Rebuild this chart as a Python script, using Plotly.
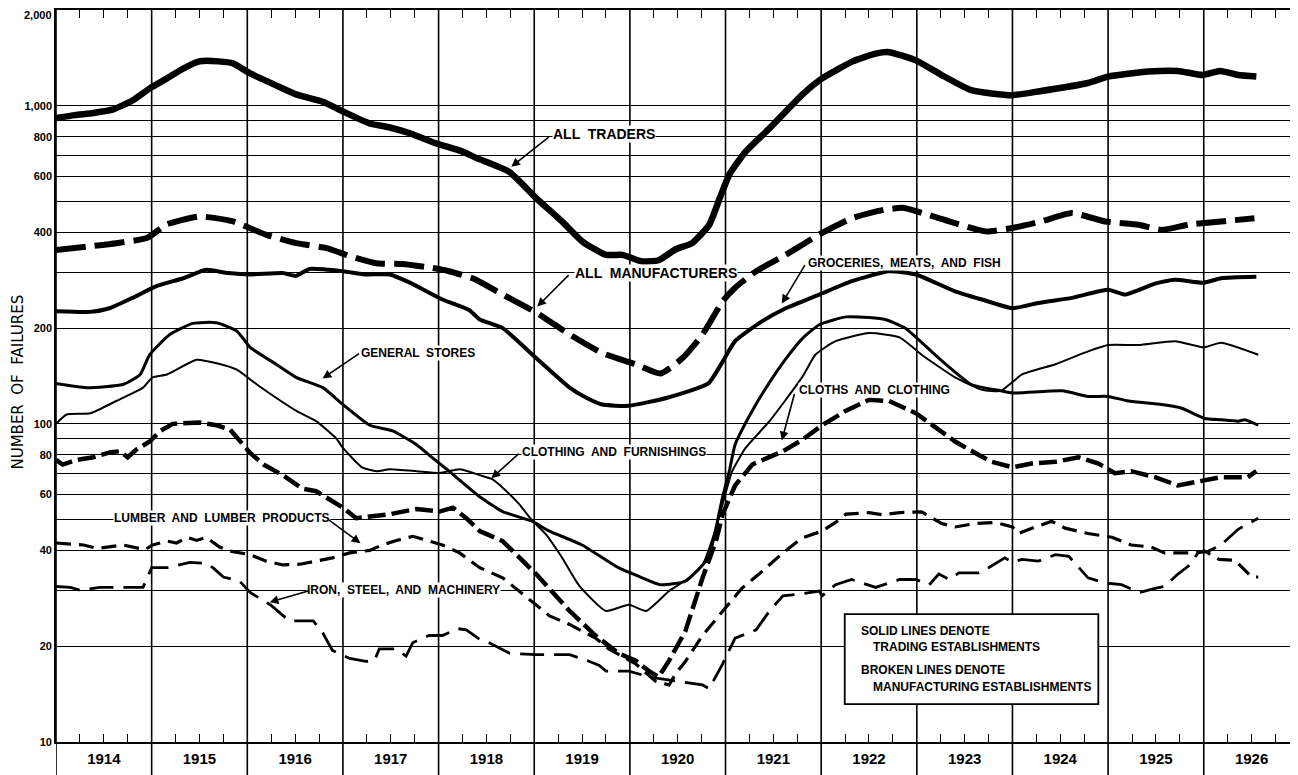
import plotly.graph_objects as go
import math

# ---------------- data ----------------
years = list(range(1914, 1927))

traders_t = [1914.0, 1914.2, 1914.39, 1914.6, 1914.8, 1914.98, 1915.16, 1915.33, 1915.5, 1915.7, 1915.85,
             1916.03, 1916.3, 1916.51, 1916.79, 1917.0, 1917.28, 1917.49, 1917.7, 1917.97, 1918.25, 1918.4,
             1918.74, 1919.02, 1919.29, 1919.5, 1919.75, 1919.92, 1920.13, 1920.3, 1920.48, 1920.65, 1920.83,
             1920.94, 1921.04, 1921.21, 1921.46, 1921.8, 1922.01, 1922.33, 1922.57, 1922.71, 1922.99, 1923.26,
             1923.57, 1923.99, 1924.27, 1924.79, 1925.0, 1925.42, 1925.73, 1925.99, 1926.17, 1926.36, 1926.55]
traders_v = [915, 935, 950, 975, 1040, 1135, 1220, 1310, 1380, 1380, 1360,
             1265, 1160, 1087, 1030, 960, 880, 855, 820, 763, 718, 685,
             620, 513, 433, 375, 340, 340, 324, 327, 354, 370, 423,
             513, 608, 718, 850, 1083, 1220, 1380, 1460, 1475, 1390, 1250,
             1120, 1080, 1110, 1180, 1236, 1282, 1288, 1250, 1288, 1250, 1236]

manuf_t = [1914.0, 1914.29, 1914.63, 1914.95, 1915.16, 1915.5, 1915.85, 1916.2, 1916.51, 1916.83, 1917.07,
           1917.35, 1917.62, 1917.94, 1918.11, 1918.38, 1918.67, 1919.02, 1919.37, 1919.71, 1920.06, 1920.32,
           1920.55, 1920.76, 1920.97, 1921.1, 1921.32, 1921.63, 1921.98, 1922.32, 1922.64, 1922.85, 1923.0,
           1923.34, 1923.72, 1924.0, 1924.3, 1924.62, 1924.97, 1925.32, 1925.56, 1925.84, 1926.18, 1926.53]
manuf_v = [352, 360, 370, 384, 424, 449, 433, 393, 370, 357, 337,
           320, 318, 309, 302, 285, 255, 224, 191, 167, 154, 144,
           161, 191, 243, 268, 302, 340, 394, 443, 470, 478, 466,
           433, 403, 413, 433, 460, 433, 423, 407, 423, 433, 443]

groc_t = [1914.0, 1914.36, 1914.56, 1914.8, 1915.05, 1915.33, 1915.57, 1915.8, 1916.03, 1916.37, 1916.51,
          1916.65, 1917.0, 1917.24, 1917.49, 1917.7, 1918.04, 1918.32, 1918.43, 1918.67, 1919.02, 1919.37,
          1919.54, 1919.71, 1919.99, 1920.4, 1920.82, 1920.97, 1921.1, 1921.38, 1921.63, 1921.98, 1922.32,
          1922.71, 1922.99, 1923.4, 1923.68, 1924.0, 1924.27, 1924.62, 1925.0, 1925.18, 1925.49, 1925.7,
          1926.0, 1926.18, 1926.55]
groc_v = [226, 225, 231, 249, 271, 287, 305, 298, 295, 298, 292,
          307, 302, 295, 295, 278, 246, 228, 213, 200, 161, 130,
          121, 115, 114, 121, 134, 157, 182, 210, 231, 255, 281,
          302, 295, 261, 246, 231, 240, 249, 264, 255, 276, 284,
          278, 287, 290]

gen_t = [1914.0, 1914.32, 1914.7, 1914.88, 1914.98, 1915.19, 1915.43, 1915.68, 1915.89, 1916.03, 1916.3,
         1916.51, 1916.79, 1917.0, 1917.28, 1917.52, 1917.77, 1917.94, 1918.11, 1918.43, 1918.67, 1918.97,
         1919.16, 1919.5, 1919.88, 1920.13, 1920.32, 1920.58, 1920.76, 1920.83, 1920.9, 1920.97, 1921.04,
         1921.1, 1921.28, 1921.46, 1921.63, 1921.8, 1921.98, 1922.26, 1922.5, 1922.67, 1922.88, 1923.23,
         1923.57, 1923.88, 1924.0, 1924.52, 1924.79, 1925.0, 1925.21, 1925.56, 1925.77, 1926.01, 1926.18,
         1926.36, 1926.43, 1926.57]
gen_v = [134, 130, 133, 143, 165, 191, 207, 208, 196, 174, 154,
         140, 130, 115, 99, 95, 86, 78, 71, 59, 53, 49.5,
         46, 41.6, 35.3, 32.8, 31.2, 32, 36, 38.5, 47, 59, 71,
         86, 110, 135, 160, 185, 205, 217, 216, 213, 200, 161,
         133, 127, 125, 127, 122, 122, 118, 115, 112, 104, 103,
         102, 103, 99]

cf_t = [1914.0, 1914.11, 1914.36, 1914.63, 1914.91, 1915.01, 1915.16, 1915.47, 1915.68, 1915.89, 1916.1,
        1916.51, 1916.72, 1916.93, 1917.0, 1917.2, 1917.35, 1917.49, 1917.77, 1918.01, 1918.22, 1918.43,
        1918.56, 1918.67, 1918.84, 1918.97, 1919.12, 1919.29, 1919.47, 1919.75, 1919.99, 1920.17, 1920.41,
        1920.62, 1920.76, 1920.9, 1920.97, 1921.07, 1921.21, 1921.46, 1921.8, 1921.94, 1922.15, 1922.5,
        1922.82, 1923.05, 1923.4, 1923.68, 1923.88, 1924.1, 1924.45, 1924.79, 1925.0, 1925.32, 1925.7,
        1926.0, 1926.18, 1926.57]
cf_v = [100, 107, 108, 118, 130, 140, 143, 159, 155, 148, 133,
        110, 102, 90, 84, 73, 71, 72, 71, 70, 72, 69,
        67, 63, 56, 50, 45, 38, 31, 25.8, 27, 25.8, 29.8,
        32.8, 36, 47, 56, 71, 84, 102, 140, 165, 182, 193,
        187, 165, 140, 128, 127, 143, 154, 169, 177, 177, 182,
        174, 180, 165]

cloths_t = [1914.0, 1914.07, 1914.21, 1914.39, 1914.57, 1914.67, 1914.75, 1914.84, 1914.98, 1915.09, 1915.22,
            1915.5, 1915.68, 1915.82, 1916.03, 1916.17, 1916.37, 1916.58, 1916.72, 1916.89, 1917.0, 1917.14,
            1917.28, 1917.49, 1917.77, 1918.01, 1918.15, 1918.29, 1918.43, 1918.67, 1919.02, 1919.37, 1919.64,
            1919.88, 1920.06, 1920.2, 1920.3, 1920.41, 1920.58, 1920.76, 1920.9, 1920.97, 1921.1, 1921.28,
            1921.6, 1921.8, 1922.01, 1922.26, 1922.5, 1922.71, 1922.99, 1923.16, 1923.4, 1923.61, 1923.78,
            1924.0, 1924.2, 1924.45, 1924.69, 1924.9, 1925.07, 1925.24, 1925.49, 1925.73, 1925.97, 1926.18,
            1926.46, 1926.55]
cloths_v = [77, 74.5, 77, 78.5, 81.5, 82, 78.5, 83, 88, 95, 100,
            101, 99, 96, 81, 74.5, 69, 62.5, 61.4, 57, 54.5, 50.5,
            51, 52, 54, 53, 54.5, 50.5, 46, 42.8, 33.7, 25.8, 21.6,
            19, 18, 16.7, 16, 18, 22.3, 32.8, 42.8, 52, 64, 74.5,
            82, 89, 99, 110, 119, 118, 108, 99, 88, 81, 76,
            73, 75, 76, 78.5, 75, 70, 71, 68, 64, 66, 68,
            68, 71]

lumber_t = [1914.0, 1914.29, 1914.43, 1914.7, 1914.93, 1915.01, 1915.16, 1915.26, 1915.37, 1915.47, 1915.57,
            1915.71, 1915.82, 1916.03, 1916.2, 1916.37, 1916.55, 1916.72, 1916.89, 1917.07, 1917.28, 1917.41,
            1917.56, 1917.73, 1917.87, 1918.04, 1918.22, 1918.43, 1918.67, 1919.02, 1919.16, 1919.37, 1919.64,
            1919.78, 1920.06, 1920.27, 1920.41, 1920.48, 1920.58, 1920.76, 1920.97, 1921.17, 1921.35, 1921.6,
            1921.8, 1922.01, 1922.15, 1922.26, 1922.5, 1922.64, 1922.82, 1923.05, 1923.26, 1923.4, 1923.61,
            1923.82, 1924.0, 1924.06, 1924.24, 1924.41, 1924.55, 1924.79, 1925.04, 1925.24, 1925.45, 1925.59,
            1925.84, 1926.01, 1926.16, 1926.33, 1926.5, 1926.57]
lumber_v = [42.2, 41.6, 40.6, 41.6, 40.2, 41.6, 42.8, 42.2, 44, 43, 44,
            41, 39.8, 38.8, 37, 36, 36.2, 37, 37.9, 39.3, 40, 41.6,
            43, 44.3, 43, 41.6, 39.3, 35.3, 32.8, 27, 24.9, 23.4, 21.2,
            19.6, 17.6, 15.5, 15.1, 16.4, 17.9, 21.6, 25.8, 30.4, 33.7, 39.3,
            43.8, 46, 49, 52, 52.6, 51.8, 52.6, 52.9, 48.6, 47.4, 48.6,
            49, 47.4, 45.2, 47.4, 49.4, 47, 45.2, 44, 41.6, 41, 39.3,
            39.3, 39.8, 37.5, 37.2, 33, 33]

iron_t = [1914.0, 1914.15, 1914.25, 1914.46, 1914.91, 1915.0, 1915.16, 1915.33, 1915.4, 1915.57, 1915.64,
          1915.75, 1915.92, 1916.03, 1916.24, 1916.44, 1916.69, 1916.79, 1916.89, 1917.07, 1917.24, 1917.33,
          1917.38, 1917.56, 1917.66, 1917.73, 1917.9, 1918.04, 1918.2, 1918.29, 1918.43, 1918.5, 1918.74,
          1919.02, 1919.37, 1919.58, 1919.68, 1919.75, 1919.99, 1920.2, 1920.5, 1920.65, 1920.76, 1920.83,
          1920.97, 1921.1, 1921.32, 1921.46, 1921.6, 1921.8, 1921.98, 1922.01, 1922.15, 1922.32, 1922.57,
          1922.82, 1922.99, 1923.13, 1923.23, 1923.34, 1923.44, 1923.65, 1923.75, 1923.92, 1924.0, 1924.1,
          1924.27, 1924.45, 1924.59, 1924.79, 1924.97, 1925.14, 1925.33, 1925.49, 1925.59, 1925.73, 1925.84,
          1925.94, 1926.05, 1926.18, 1926.36, 1926.57]
iron_v = [30.8, 30.6, 30, 30.6, 30.6, 35.3, 35.3, 36.2, 36.7, 36.4, 35.3,
          33, 32, 29.5, 27, 24, 24, 22, 19.4, 18.3, 17.9, 18,
          19.6, 19.6, 18.6, 20.5, 21.6, 21.6, 22.7, 22.5, 21, 20.7, 19,
          18.8, 18.8, 17.9, 17.4, 16.7, 16.7, 16, 15.5, 15.3, 15.1, 14.7,
          17.6, 21.2, 22.5, 25.8, 28.8, 29.2, 29.8, 28.8, 31.2, 32.4, 30.6,
          32.4, 32.4, 31.2, 33.7, 32.4, 34, 34, 35.3, 37.9, 36.7, 37.5,
          37, 38.8, 38.3, 32.8, 31.6, 31.2, 29.5, 30.4, 30.8, 33.7, 35.7,
          39.3, 39.8, 41.6, 46.6, 50.5]

grid_values = [10, 20, 30, 40, 50, 60, 70, 80, 90, 100, 200, 300, 400, 500, 600, 700, 800, 900, 1000, 2000]
labelled_values = {10: "10", 20: "20", 40: "40", 60: "60", 80: "80", 100: "100", 200: "200",
                   400: "400", 600: "600", 800: "800", 1000: "1,000"}
top_label = "2,000"

# ---------------- layout geometry ----------------
# the page body has an 8px margin, so the figure is shrunk by that amount
OFF = 8
PAGE_W, PAGE_H = 1298, 775
W, H = PAGE_W - OFF, PAGE_H - OFF
PLOT_LEFT, PLOT_TOP, PLOT_BOTTOM = 56, 9, 742       # in page pixels
L, T = PLOT_LEFT - OFF, PLOT_TOP - OFF
R = 0
B = PAGE_H - PLOT_BOTTOM
PW, PH = W - L - R, H - T - B
YEAR_PX = 95.8
X0 = 1914.0
X1 = X0 + PW / YEAR_PX
LOG0, LOG1 = 1.0 - 0.0004, math.log10(2000) + 0.0004


def tx(px):
    return X0 + (px - PLOT_LEFT) / YEAR_PX


def ly(py):
    return LOG1 - (py - PLOT_TOP) / PH * (LOG1 - LOG0)


def px_paper_x(px):
    return (px - PLOT_LEFT) / PW


def px_paper_y(py):
    return (PLOT_BOTTOM - py) / PH


FONT = "Liberation Sans"

fig = go.Figure()


def add_line(t, v, width, dash=None, smooth=False):
    fig.add_trace(go.Scatter(x=t, y=v, mode="lines",
                             line=dict(color="black", width=width, dash=dash or "solid",
                                       shape="spline" if smooth else "linear", smoothing=0.5),
                             showlegend=False, hoverinfo="skip"))


add_line(traders_t, traders_v, 6.5, smooth=True)
add_line(manuf_t, manuf_v, 6.0, "30px,9px", smooth=True)
add_line(groc_t, groc_v, 4.0, smooth=True)
add_line(gen_t, gen_v, 3.0, smooth=True)
add_line(cf_t, cf_v, 2.0, smooth=True)
add_line(cloths_t, cloths_v, 4.5, "18px,6px")
add_line(lumber_t, lumber_v, 3.2, "15px,8px")
add_line(iron_t, iron_v, 2.8, "24px,10px")

# ---------------- axes ----------------
quarter_vals, quarter_text = [], []
for y in years:
    for q in (0.25, 0.5, 0.75):
        quarter_vals.append(y + q)
        quarter_text.append("<b>%d</b>" % y if q == 0.5 else "")

fig.update_xaxes(range=[X0, X1], tickmode="array", tickvals=quarter_vals, ticktext=quarter_text,
                 ticks="inside", ticklen=8, tickwidth=1.4, tickcolor="black",
                 showline=True, linecolor="black", linewidth=1.6, mirror="ticks",
                 showgrid=False, zeroline=False,
                 tickfont=dict(family=FONT, size=15, color="black"), ticklabelstandoff=2)

fig.update_yaxes(type="log", range=[LOG0, LOG1], tickmode="array", tickvals=grid_values,
                 ticktext=["<b>%s</b>" % labelled_values[v] if v in labelled_values else "" for v in grid_values],
                 ticks="", showline=True, linecolor="black", linewidth=1.6, mirror=True,
                 showgrid=True, gridcolor="black", gridwidth=1.2, zeroline=False,
                 tickfont=dict(family=FONT, size=11, color="black"), ticklabelstandoff=0)

shapes = []
for y in years + [1927]:
    if y > X1:
        continue
    shapes.append(dict(type="line", xref="x", yref="paper", x0=y, x1=y,
                       y0=px_paper_y(PAGE_H), y1=1, line=dict(color="black", width=1.6), layer="above"))

# legend box
shapes.append(dict(type="rect", xref="paper", yref="paper",
                   x0=px_paper_x(846), x1=px_paper_x(1100), y0=px_paper_y(704), y1=px_paper_y(614),
                   fillcolor="white", line=dict(color="black", width=1.8), layer="above"))

annotations = []


def label(text, cx, cy, size):
    annotations.append(dict(x=tx(cx), y=ly(cy), xref="x", yref="y", text="<b>%s</b>" % text,
                            showarrow=False, bgcolor="white", borderpad=0,
                            font=dict(family=FONT, size=size, color="black")))


def arrow(tail, head):
    annotations.append(dict(x=tx(head[0]), y=ly(head[1]), xref="x", yref="y",
                            ax=tx(tail[0]), ay=ly(tail[1]), axref="x", ayref="y",
                            text="", showarrow=True, arrowhead=2, arrowsize=1.1, arrowwidth=1.6,
                            arrowcolor="black", standoff=0, startstandoff=0))


label("ALL  TRADERS", 605, 133, 14)
arrow((551, 135), (512, 166))
label("ALL  MANUFACTURERS", 657, 272, 14)
arrow((571, 273), (538, 306))
label("GROCERIES,  MEATS,  AND  FISH", 906, 262, 12)
arrow((807, 263), (783, 303))
label("GENERAL  STORES", 419, 352, 12)
arrow((361, 352), (323, 378))
label("CLOTHING  AND  FURNISHINGS", 615, 452, 12)
arrow((521, 452), (492, 478))
label("CLOTHS  AND  CLOTHING", 876, 390, 12)
arrow((796, 392), (783, 440))
label("LUMBER  AND  LUMBER  PRODUCTS", 222, 518, 12)
arrow((327, 518), (361, 543))
label("IRON,  STEEL,  AND  MACHINERY", 404, 590, 12)
arrow((311, 590), (270, 602))

legend_lines = [("SOLID LINES DENOTE", 860, 631), ("TRADING ESTABLISHMENTS", 872, 647),
                ("BROKEN LINES DENOTE", 860, 670), ("MANUFACTURING ESTABLISHMENTS", 872, 687)]
for txt, lx, lyy in legend_lines:
    annotations.append(dict(x=px_paper_x(lx), y=px_paper_y(lyy), xref="paper", yref="paper",
                            xanchor="left", yanchor="middle", text="<b>%s</b>" % txt, showarrow=False,
                            font=dict(family=FONT, size=12, color="black")))

# top tick label (placed just under the top border so it is not clipped)
annotations.append(dict(x=px_paper_x(54), y=px_paper_y(14), xref="paper", yref="paper",
                        xanchor="right", yanchor="middle", text="<b>%s</b>" % top_label, showarrow=False,
                        font=dict(family=FONT, size=11, color="black")))

annotations.append(dict(x=px_paper_x(18), y=px_paper_y(382), xref="paper", yref="paper",
                        xanchor="center", yanchor="middle",
                        text="NUMBER  OF  FAILURES", textangle=-90, showarrow=False,
                        font=dict(family="DejaVu Sans", size=15, color="black")))

fig.update_layout(width=W, height=H, margin=dict(l=L, r=R, t=T, b=B, pad=0),
                  paper_bgcolor="white", plot_bgcolor="white",
                  shapes=shapes, annotations=annotations, showlegend=False)

fig.write_html("out.html")
